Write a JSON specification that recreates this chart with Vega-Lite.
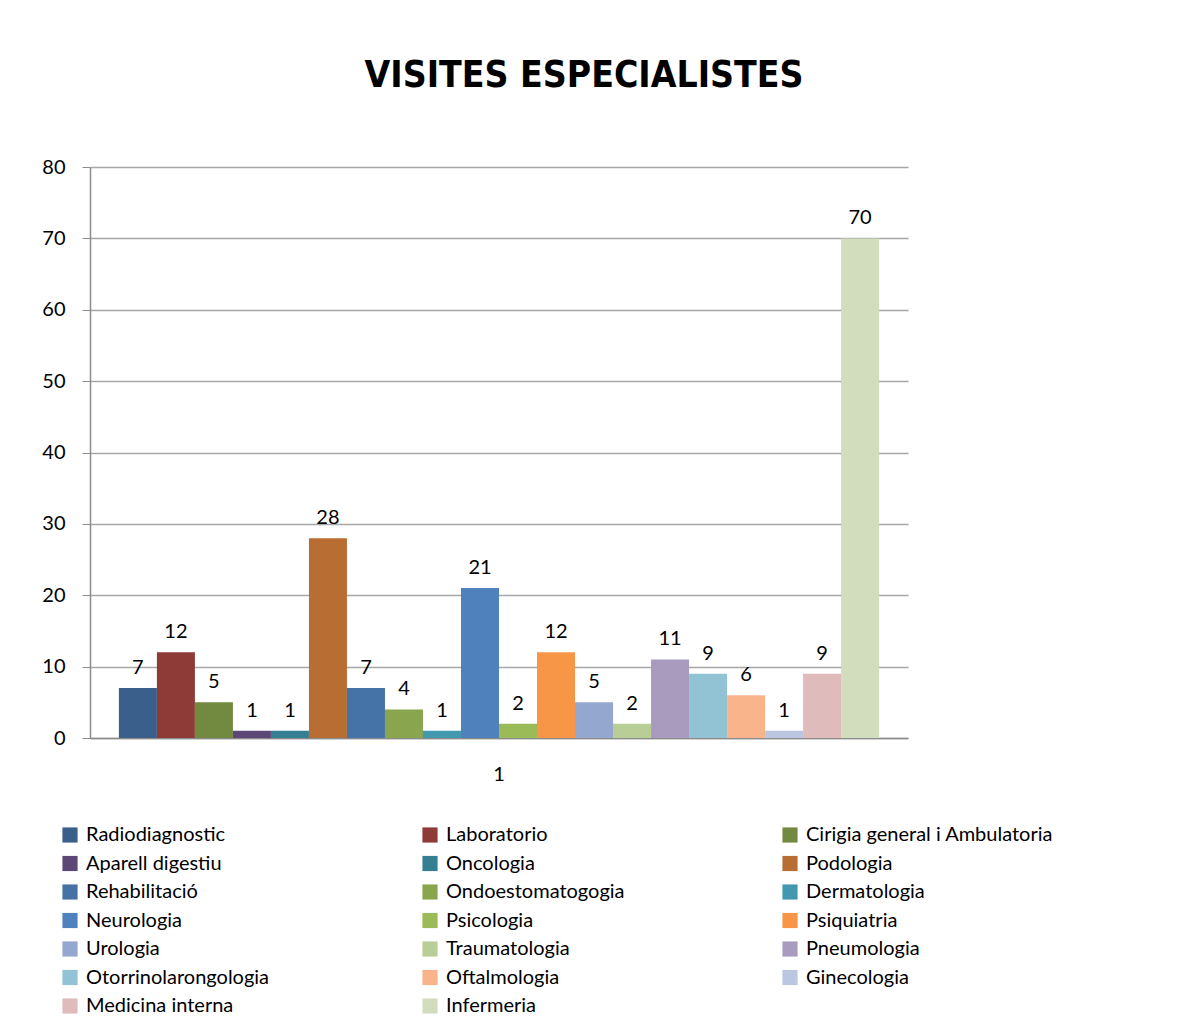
{
  "$schema": "https://vega.github.io/schema/vega-lite/v6.json",
  "autosize": {"type": "none"},
  "width": 818,
  "height": 571,
  "padding": {"left": 90, "top": 167, "right": 287, "bottom": 291},
  "background": "white",
  "title": {
    "text": "VISITES ESPECIALISTES",
    "font": "DejaVu Sans Condensed",
    "fontSize": 37,
    "fontWeight": "bold",
    "color": "black",
    "anchor": "middle",
    "frame": "group",
    "dx": 85,
    "offset": 62
  },
  "config": {
    "view": {"stroke": null},
    "font": "Lato"
  },
  "data": {
    "values": [
      {"grp": "1", "cat": "Radiodiagnostic", "value": 7},
      {"grp": "1", "cat": "Laboratorio", "value": 12},
      {"grp": "1", "cat": "Cirigia general i Ambulatoria", "value": 5},
      {"grp": "1", "cat": "Aparell digestiu", "value": 1},
      {"grp": "1", "cat": "Oncologia", "value": 1},
      {"grp": "1", "cat": "Podologia", "value": 28},
      {"grp": "1", "cat": "Rehabilitació", "value": 7},
      {"grp": "1", "cat": "Ondoestomatogogia", "value": 4},
      {"grp": "1", "cat": "Dermatologia", "value": 1},
      {"grp": "1", "cat": "Neurologia", "value": 21},
      {"grp": "1", "cat": "Psicologia", "value": 2},
      {"grp": "1", "cat": "Psiquiatria", "value": 12},
      {"grp": "1", "cat": "Urologia", "value": 5},
      {"grp": "1", "cat": "Traumatologia", "value": 2},
      {"grp": "1", "cat": "Pneumologia", "value": 11},
      {"grp": "1", "cat": "Otorrinolarongologia", "value": 9},
      {"grp": "1", "cat": "Oftalmologia", "value": 6},
      {"grp": "1", "cat": "Ginecologia", "value": 1},
      {"grp": "1", "cat": "Medicina interna", "value": 9},
      {"grp": "1", "cat": "Infermeria", "value": 70}
    ]
  },
  "encoding": {
    "x": {
      "field": "grp",
      "type": "nominal",
      "scale": {"paddingInner": 0, "paddingOuter": 0.038},
      "axis": {
        "title": null,
        "labelAngle": 0,
        "labelFontSize": 20,
        "labelColor": "black",
        "labelPadding": 26,
        "ticks": false,
        "domainColor": "#8c8c8c",
        "domainWidth": 1.5
      }
    },
    "xOffset": {"field": "cat", "type": "nominal", "sort": null, "scale": {"paddingInner": 0, "paddingOuter": 0}},
    "y": {
      "field": "value",
      "type": "quantitative",
      "scale": {"domain": [0, 80], "nice": false},
      "axis": {
        "title": null,
        "values": [0, 10, 20, 30, 40, 50, 60, 70, 80],
        "labelFontSize": 20,
        "labelColor": "black",
        "labelPadding": 17,
        "tickSize": 8,
        "tickColor": "#8c8c8c",
        "domainColor": "#8c8c8c",
        "domainWidth": 1.5,
        "gridColor": "#a6a6a6",
        "gridWidth": 1.5
      }
    }
  },
  "layer": [
    {
      "mark": {"type": "bar"},
      "encoding": {
        "color": {
          "field": "cat",
          "type": "nominal",
          "scale": {
            "domain": ["Radiodiagnostic", "Laboratorio", "Cirigia general i Ambulatoria", "Aparell digestiu", "Oncologia", "Podologia", "Rehabilitació", "Ondoestomatogogia", "Dermatologia", "Neurologia", "Psicologia", "Psiquiatria", "Urologia", "Traumatologia", "Pneumologia", "Otorrinolarongologia", "Oftalmologia", "Ginecologia", "Medicina interna", "Infermeria"],
            "range": ["#3A5F8B", "#8E3B38", "#728A3F", "#5D4776", "#357F92", "#B86E32", "#4572A7", "#89A54E", "#4198AF", "#4F81BD", "#9BBB59", "#F79646", "#94A7CF", "#B9CD96", "#A99BBD", "#92C3D4", "#F9B48C", "#BBC7E1", "#E0BBBB", "#D1DDBD"]
          },
          "legend": {
            "title": null,
            "orient": "none",
            "legendX": -30,
            "legendY": 658,
            "direction": "horizontal",
            "columns": 3,
            "gridAlign": "all",
            "columnPadding": 86,
            "rowPadding": 8.5,
            "symbolType": "square",
            "symbolSize": 230,
            "symbolStrokeWidth": 0,
            "labelFontSize": 20,
            "labelColor": "black",
            "labelLimit": 400,
            "labelOffset": 6
          }
        }
      }
    },
    {
      "mark": {"type": "text", "baseline": "bottom", "dy": -10, "fontSize": 20, "color": "black"},
      "encoding": {
        "text": {"field": "value", "type": "quantitative"}
      }
    }
  ]
}
